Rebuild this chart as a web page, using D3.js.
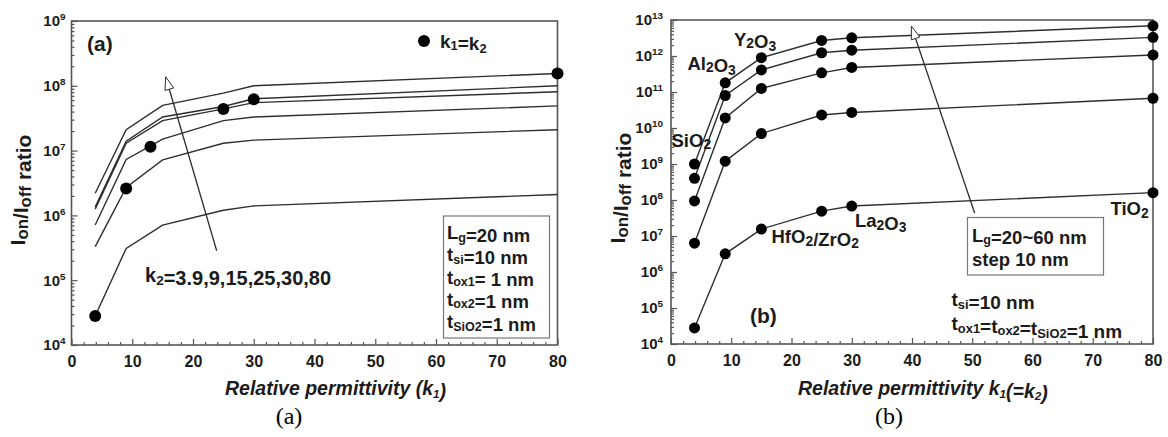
<!DOCTYPE html>
<html>
<head>
<meta charset="utf-8">
<script src="https://cdn.jsdelivr.net/npm/d3@7"></script>
<style>
  body { margin: 0; background: #fff; }
  svg text { font-family: "Liberation Sans", Arial, sans-serif; font-weight: bold; fill: #1b1b1b; }
  svg text.caption { font-family: "Liberation Serif", "Times New Roman", serif; font-weight: normal; fill: #000; }
</style>
</head>
<body>
<div id="chart"></div>
<script>
// ---- data ----
const kValues = [3.9, 9, 15, 25, 30, 80];

// (a) Ion/Ioff vs k1, one curve per k2 (Lg = 20 nm)
const k2Values = [80, 30, 25, 15, 9, 3.9];
const ratioK2_80 = [2.2e6, 2.1e7, 5.0e7, 7.7e7, 1.0e8, 1.55e8];
const ratioK2_30 = [1.35e6, 1.4e7, 3.3e7, 4.8e7, 6.3e7, 1.0e8];
const ratioK2_25 = [1.25e6, 1.3e7, 2.9e7, 4.4e7, 5.5e7, 8.1e7];
const ratioK2_15 = [7.1e5, 7.3e6, 1.5e7, 2.9e7, 3.3e7, 4.9e7];
const ratioK2_9 = [3.3e5, 2.7e6, 7.2e6, 1.3e7, 1.45e7, 2.1e7];
const ratioK2_3_9 = [2.8e4, 3.1e5, 7.1e5, 1.2e6, 1.4e6, 2.1e6];

// (a) k1 = k2 markers
const equalK = [3.9, 9, 13, 25, 30, 80];
const equalRatio = [2.8e4, 2.6e6, 1.15e7, 4.4e7, 6.2e7, 1.55e8];

// (b) k1 = k2, one curve per gate length
const gateLengths = [60, 50, 40, 30, 20];
const ratioLg60 = [1.0e9, 1.8e11, 9.0e11, 2.7e12, 3.2e12, 6.9e12];
const ratioLg50 = [4.0e8, 8.0e10, 4.1e11, 1.23e12, 1.45e12, 3.3e12];
const ratioLg40 = [9.4e7, 1.9e10, 1.26e11, 3.4e11, 4.8e11, 1.07e12];
const ratioLg30 = [6.3e6, 1.2e9, 7.0e9, 2.3e10, 2.7e10, 6.7e10];
const ratioLg20 = [2.8e4, 3.2e6, 1.56e7, 4.9e7, 6.8e7, 1.6e8];

const xTicks = [0, 10, 20, 30, 40, 50, 60, 70, 80];

let width = 1168;
let height = 437;
let lineColor = '#2e2e2e';
let frameColor = '#555';

let svg = d3
    .select('#chart')
    .append('svg')
    .attr('width', width)
    .attr('height', height)
    .style('background', 'white');

// text with sub-scripted pieces: parts = [[text, isSub], ...]
function richText(sel, parts, subScale) {
    subScale = subScale || 0.68;
    let size = +sel.attr('font-size');
    let shift = size * 0.14;
    parts.forEach(p => {
        if (p[1]) {
            sel.append('tspan')
                .attr('font-size', size * subScale)
                .attr('dy', shift)
                .text(p[0]);
            sel.append('tspan').attr('dy', -shift).text('');
        } else {
            sel.append('tspan').text(p[0]);
        }
    });
    return sel;
}

function powLabel(sel) {
    sel.each(function (d) {
        let t = d3.select(this);
        let e = Math.round(Math.log10(d));
        t.text(null);
        t.append('tspan').text('10');
        t.append('tspan').attr('dy', '-0.6em').attr('font-size', '0.66em').text(e);
    });
}

function drawPanel(cfg) {
    let g = svg.append('g');
    let x = d3.scaleLinear().domain([0, 80]).range([cfg.left, cfg.right]);
    let y = d3.scaleLog().domain(cfg.yDomain).range([cfg.bottom, cfg.top]);

    let lo = Math.log10(cfg.yDomain[0]);
    let hi = Math.log10(cfg.yDomain[1]);
    let decades = d3.range(lo, hi + 1).map(e => Math.pow(10, e));
    let minors = [];
    d3.range(lo, hi).forEach(e => {
        for (let m = 2; m <= 9; m++) minors.push(m * Math.pow(10, e));
    });
    let xMinor = d3.range(0, 81, 2).filter(v => v % 10 !== 0);

    // minor ticks
    g.append('g')
        .attr('transform', `translate(${cfg.left},0)`)
        .call(d3.axisLeft(y).tickValues(minors).tickSize(-3).tickFormat(''))
        .call(a => a.select('.domain').remove());
    g.append('g')
        .attr('transform', `translate(0,${cfg.bottom})`)
        .call(d3.axisBottom(x).tickValues(xMinor).tickSize(-3).tickFormat(''))
        .call(a => a.select('.domain').remove());

    // major ticks
    let yAx = g.append('g')
        .attr('transform', `translate(${cfg.left},0)`)
        .call(d3.axisLeft(y).tickValues(decades).tickSize(-6).tickPadding(cfg.yPad));
    yAx.select('.domain').remove();
    yAx.selectAll('.tick text')
        .attr('font-size', 15)
        .call(powLabel);

    let xAx = g.append('g')
        .attr('transform', `translate(0,${cfg.bottom})`)
        .call(d3.axisBottom(x).tickValues(xTicks).tickSize(-6).tickPadding(11));
    xAx.select('.domain').remove();
    xAx.selectAll('.tick text')
        .attr('font-size', 16);

    g.selectAll('.tick line').attr('stroke', frameColor).attr('stroke-width', 1.2);

    // frame
    g.append('rect')
        .attr('x', cfg.left)
        .attr('y', cfg.top)
        .attr('width', cfg.right - cfg.left)
        .attr('height', cfg.bottom - cfg.top)
        .attr('fill', 'none')
        .attr('stroke', frameColor)
        .attr('stroke-width', 1.6);

    // axis titles
    richText(
        g.append('text')
            .attr('transform', `translate(${cfg.yTitleX},${cfg.yTitleY}) rotate(-90)`)
            .attr('text-anchor', 'middle')
            .attr('font-size', 21),
        [['I'], ['on', true], ['/I'], ['off', true], [' ratio']], 0.8);

    richText(
        g.append('text')
            .attr('x', cfg.xTitleX)
            .attr('y', 395)
            .attr('font-size', 19.5)
            .attr('font-style', 'italic'),
        cfg.xTitle, 0.6);

    g.append('text')
        .attr('class', 'caption')
        .attr('x', cfg.captionX)
        .attr('y', 424)
        .attr('font-size', 24)
        .attr('text-anchor', 'middle')
        .text(cfg.caption);

    return { g, x, y };
}

function drawLines(p, series) {
    let line = d3.line().x((d, i) => p.x(kValues[i])).y(d => p.y(d));
    p.g.selectAll('path.series')
        .data(series)
        .enter()
        .append('path')
        .attr('class', 'series')
        .attr('d', d => line(d))
        .attr('fill', 'none')
        .attr('stroke', lineColor)
        .attr('stroke-width', 1.4);
}

function drawArrow(p, from, to) {
    let x1 = p.x(from[0]), y1 = p.y(from[1]);
    let x2 = p.x(to[0]), y2 = p.y(to[1]);
    let ang = Math.atan2(y2 - y1, x2 - x1);
    let len = 13, hw = 4.5;
    let bx = x2 - len * Math.cos(ang), by = y2 - len * Math.sin(ang);
    p.g.append('line')
        .attr('x1', x1).attr('y1', y1).attr('x2', bx).attr('y2', by)
        .attr('stroke', lineColor).attr('stroke-width', 1.3);
    let nx = -Math.sin(ang), ny = Math.cos(ang);
    p.g.append('path')
        .attr('d', `M${x2},${y2}L${bx + nx * hw},${by + ny * hw}L${bx - nx * hw},${by - ny * hw}Z`)
        .attr('fill', 'white')
        .attr('stroke', lineColor)
        .attr('stroke-width', 1);
}

function textAt(g, xPos, yPos, size, parts, sub) {
    return richText(g.append('text').attr('x', xPos).attr('y', yPos).attr('font-size', size), parts, sub);
}

// ---------------- panel (a) ----------------
let pa = drawPanel({
    left: 71.5, right: 557.5, top: 21, bottom: 345,
    yDomain: [1e4, 1e9], yPad: 6,
    yTitleX: 25, yTitleY: 190,
    xTitleX: 225,
    xTitle: [['Relative permittivity (k'], ['1', true], [')']],
    captionX: 289, caption: '(a)'
});

drawLines(pa, [ratioK2_80, ratioK2_30, ratioK2_25, ratioK2_15, ratioK2_9, ratioK2_3_9]);

drawArrow(pa, [23.9, Math.pow(10, 5.455)], [15.5, Math.pow(10, 8.14)]);

pa.g.selectAll('circle.eq')
    .data(equalK)
    .enter()
    .append('circle')
    .attr('class', 'eq')
    .attr('cx', d => pa.x(d))
    .attr('cy', (d, i) => pa.y(equalRatio[i]))
    .attr('r', 6)
    .attr('fill', '#000');

textAt(pa.g, 87, 51, 21, [['(a)']]);

pa.g.append('circle').attr('cx', 424).attr('cy', 41).attr('r', 6).attr('fill', '#000');
textAt(pa.g, 440, 47.5, 19, [['k'], ['1', true], ['=k'], ['2', true]]);

textAt(pa.g, 145, 282, 20, [['k'], ['2', true], ['=3.9,9,15,25,30,80']]);

pa.g.append('rect')
    .attr('x', 443.5).attr('y', 216)
    .attr('width', 106).attr('height', 122)
    .attr('fill', 'white')
    .attr('stroke', '#777')
    .attr('stroke-width', 1.2);
let boxA = [
    [['L'], ['g', true], ['=20 nm']],
    [['t'], ['si', true], ['=10 nm']],
    [['t'], ['ox1', true], ['= 1 nm']],
    [['t'], ['ox2', true], ['=1 nm']],
    [['t'], ['SiO2', true], ['=1 nm']]
];
boxA.forEach((parts, i) => textAt(pa.g, 447, 239 + i * 22.3, 18.5, parts));

// ---------------- panel (b) ----------------
let pb = drawPanel({
    left: 671, right: 1153, top: 20, bottom: 344,
    yDomain: [1e4, 1e13], yPad: 8,
    yTitleX: 625, yTitleY: 188,
    xTitleX: 798,
    xTitle: [['Relative permittivity k'], ['1', true], ['(=k'], ['2', true], [')']],
    captionX: 889, caption: '(b)'
});

let seriesB = [ratioLg60, ratioLg50, ratioLg40, ratioLg30, ratioLg20];
drawLines(pb, seriesB);

seriesB.forEach(s => {
    pb.g.append('g')
        .selectAll('circle')
        .data(s)
        .enter()
        .append('circle')
        .attr('cx', (d, i) => pb.x(kValues[i]))
        .attr('cy', d => pb.y(d))
        .attr('r', 5.5)
        .attr('fill', '#000');
});

drawArrow(pb, [50.4, Math.pow(10, 7.64)], [39.9, Math.pow(10, 12.83)]);

textAt(pb.g, 734, 45.5, 18.5, [['Y'], ['2', true], ['O'], ['3', true]], 0.75);
textAt(pb.g, 687.5, 69.5, 18.5, [['Al'], ['2', true], ['O'], ['3', true]], 0.75);
textAt(pb.g, 671.5, 146.5, 18.5, [['SiO'], ['2', true]], 0.75);
textAt(pb.g, 855, 227, 18.5, [['La'], ['2', true], ['O'], ['3', true]], 0.75);
textAt(pb.g, 771.5, 243, 18.5, [['HfO'], ['2', true], ['/ZrO'], ['2', true]], 0.75);
textAt(pb.g, 1110.5, 215, 18.5, [['TiO'], ['2', true]], 0.75);
textAt(pb.g, 750, 323, 21, [['(b)']]);

pb.g.append('rect')
    .attr('x', 967.5).attr('y', 217.5)
    .attr('width', 136).attr('height', 57.5)
    .attr('fill', 'white')
    .attr('stroke', '#777')
    .attr('stroke-width', 1.2);
textAt(pb.g, 972, 241.5, 18.5, [['L'], ['g', true], ['=20~60 nm']]);
textAt(pb.g, 972, 266, 18.5, [['step 10 nm']]);
textAt(pb.g, 951.5, 306, 19, [['t'], ['si', true], ['=10 nm']]);
textAt(pb.g, 951.5, 330, 19, [['t'], ['ox1', true], ['=t'], ['ox2', true], ['=t'], ['SiO2', true], ['=1 nm']]);
</script>
</body>
</html>
